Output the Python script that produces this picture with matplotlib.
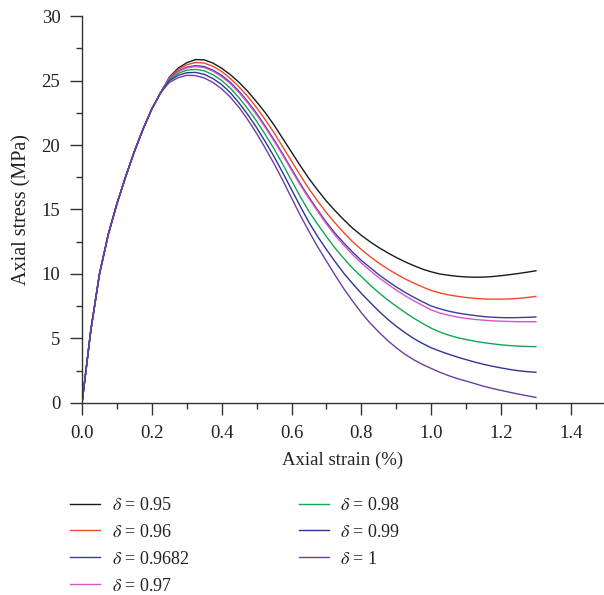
import numpy as np
import matplotlib
matplotlib.use("Agg")
import matplotlib.pyplot as plt
from matplotlib.ticker import MultipleLocator

plt.rcParams['font.family'] = ['Liberation Serif', 'DejaVu Serif']
plt.rcParams['mathtext.fontset'] = 'stix'

# axial strain (%)
strain = [0.000, 0.025, 0.050, 0.075, 0.100, 0.125, 0.150, 0.175, 0.200,
          0.225, 0.250, 0.275, 0.300, 0.325, 0.350, 0.375, 0.400, 0.425,
          0.450, 0.475, 0.500, 0.525, 0.550, 0.575, 0.600, 0.625, 0.650,
          0.675, 0.700, 0.725, 0.750, 0.775, 0.800, 0.825, 0.850, 0.875,
          0.900, 0.925, 0.950, 0.975, 1.000, 1.025, 1.050, 1.075, 1.100,
          1.125, 1.150, 1.175, 1.200, 1.225, 1.250, 1.275, 1.300]

# pre-peak part shared by all curves (0 - 0.225 %)
rise = [0, 5.6, 10.0, 13.05, 15.45, 17.55, 19.5, 21.25, 22.8, 24.05]

# axial stress (MPa) from 0.25 % on, for each delta
s_095 = rise + [25.25, 25.95, 26.38, 26.62, 26.6, 26.35, 25.95, 25.45, 24.85,
                24.15, 23.35, 22.5, 21.55, 20.5, 19.45, 18.4, 17.4, 16.5,
                15.65, 14.9, 14.2, 13.55, 13.0, 12.5, 12.05, 11.65, 11.28,
                10.95, 10.65, 10.38, 10.17, 10.0, 9.9, 9.82, 9.77, 9.75,
                9.76, 9.8, 9.87, 9.95, 10.04, 10.14, 10.25]
s_096 = rise + [25.2, 25.85, 26.22, 26.4, 26.35, 26.1, 25.7, 25.15, 24.5,
                23.75, 22.9, 21.95, 20.95, 19.85, 18.75, 17.65, 16.6, 15.65,
                14.75, 13.95, 13.2, 12.5, 11.9, 11.35, 10.85, 10.4, 10.0,
                9.62, 9.3, 9.0, 8.72, 8.53, 8.38, 8.27, 8.18, 8.11,
                8.07, 8.05, 8.05, 8.07, 8.11, 8.18, 8.26]
s_09682 = rise + [25.15, 25.72, 26.03, 26.15, 26.08, 25.8, 25.4, 24.85, 24.15,
                  23.35, 22.45, 21.45, 20.4, 19.3, 18.15, 17.0, 15.95, 14.95,
                  14.0, 13.15, 12.4, 11.7, 11.05, 10.5, 9.95, 9.45, 9.0,
                  8.58, 8.2, 7.85, 7.52, 7.3, 7.12, 6.98, 6.87, 6.78,
                  6.7, 6.65, 6.62, 6.61, 6.62, 6.64, 6.67]
s_097 = rise + [25.12, 25.68, 25.98, 26.08, 26.0, 25.72, 25.3, 24.75, 24.05,
                23.25, 22.35, 21.35, 20.3, 19.2, 18.05, 16.9, 15.85, 14.85,
                13.87, 13.0, 12.22, 11.5, 10.85, 10.27, 9.72, 9.22, 8.75,
                8.32, 7.93, 7.57, 7.22, 6.97, 6.8, 6.66, 6.56, 6.48,
                6.42, 6.37, 6.34, 6.32, 6.3, 6.3, 6.3]
s_098 = rise + [25.05, 25.55, 25.8, 25.86, 25.75, 25.45, 25.0, 24.4, 23.65,
                22.8, 21.85, 20.8, 19.7, 18.5, 17.25, 16.0, 14.85, 13.85,
                12.9, 12.0, 11.2, 10.45, 9.8, 9.15, 8.55, 8.0, 7.5,
                7.02, 6.58, 6.17, 5.8, 5.5, 5.26, 5.07, 4.92, 4.79,
                4.68, 4.59, 4.51, 4.45, 4.41, 4.38, 4.37]
s_099 = rise + [24.98, 25.4, 25.6, 25.63, 25.48, 25.15, 24.68, 24.05, 23.25,
                22.35, 21.35, 20.25, 19.1, 17.85, 16.55, 15.25, 14.0, 12.9,
                11.9, 10.95, 10.05, 9.25, 8.5, 7.8, 7.12, 6.5, 5.95,
                5.45, 5.0, 4.62, 4.28, 4.02, 3.78, 3.56, 3.36, 3.17,
                3.0, 2.85, 2.72, 2.6, 2.5, 2.43, 2.38]
s_100 = rise + [24.85, 25.22, 25.4, 25.38, 25.2, 24.85, 24.35, 23.7, 22.9,
                21.95, 20.9, 19.75, 18.55, 17.25, 15.9, 14.55, 13.3, 12.1,
                11.0, 9.9, 8.85, 7.9, 7.0, 6.2, 5.5, 4.85, 4.28,
                3.78, 3.35, 2.99, 2.68, 2.38, 2.12, 1.89, 1.7, 1.5,
                1.3, 1.13, 0.98, 0.83, 0.69, 0.56, 0.43]

labels = [r'$\delta$ = 0.95', r'$\delta$ = 0.96', r'$\delta$ = 0.9682',
          r'$\delta$ = 0.97', r'$\delta$ = 0.98', r'$\delta$ = 0.99',
          r'$\delta$ = 1']
series = [s_095, s_096, s_09682, s_097, s_098, s_099, s_100]
colors = ['#1a1a1a', '#f0482a', '#3b3d9a', '#d956c4', '#12a552',
          '#2f3596', '#6b3fa2']

fig = plt.figure(figsize=(6.04, 5.95), dpi=100)
ax = fig.add_axes([0.1358, 0.3227, 0.8642, 0.6504])

for y, c, lab in zip(series, colors, labels):
    ax.plot(strain, y, color=c, lw=1.0, label=lab)

ax.set_xlim(0, 1.495)
ax.set_ylim(0, 30)
ax.xaxis.set_major_locator(MultipleLocator(0.2))
ax.xaxis.set_minor_locator(MultipleLocator(0.1))
ax.yaxis.set_major_locator(MultipleLocator(5))
ax.yaxis.set_minor_locator(MultipleLocator(2.5))
ax.xaxis.set_major_formatter(plt.FuncFormatter(lambda v, p: f'{v:.1f}'))

for side in ['top', 'right']:
    ax.spines[side].set_visible(False)
for side in ['left', 'bottom']:
    ax.spines[side].set_color('#333333')
    ax.spines[side].set_linewidth(1.0)

ax.tick_params(which='major', direction='out', length=8.6, width=1.0,
               color='#333333', labelsize=13.5, labelcolor='#222222', pad=7)
ax.tick_params(which='minor', direction='out', length=4.3, width=1.0,
               color='#333333')

ax.set_xlabel('Axial strain (%)', fontsize=13.5, color='#222222')
ax.set_ylabel('Axial stress (MPa)', fontsize=14.5, color='#222222')
ax.xaxis.set_label_coords(0.5, -0.126)
ax.yaxis.set_label_coords(-0.097, 0.5)

handles, labs = ax.get_legend_handles_labels()
fig.legend(handles, labs, loc='upper left', bbox_to_anchor=(0.116, 0.165),
           ncol=2, frameon=False, fontsize=13, handlelength=1.65,
           handletextpad=0.65, labelspacing=0.55, columnspacing=6.05,
           borderpad=0, borderaxespad=0, labelcolor='#222222')

fig.savefig('out.png', dpi=100)
